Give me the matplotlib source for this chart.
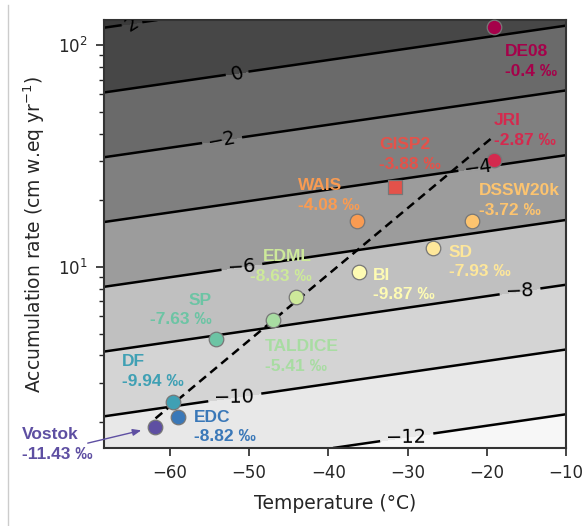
import numpy as np
import matplotlib
matplotlib.use("Agg")
import matplotlib.pyplot as plt
from matplotlib.lines import Line2D

# Sites, sorted by accumulation (high -> low)
sites = ['DE08', 'JRI', 'GISP2', 'WAIS', 'DSSW20k', 'SD', 'BI',
         'EDML', 'TALDICE', 'SP', 'DF', 'EDC', 'Vostok']
temperature = [-19.1, -19.1, -31.6, -36.4, -21.9, -26.8, -36.1,
               -44.1, -47.0, -54.2, -59.6, -59.0, -61.9]
accumulation = [120.5, 30.3, 22.9, 16.1, 16.1, 12.2, 9.5,
                7.3, 5.8, 4.74, 2.47, 2.11, 1.9]
delta = [-0.4, -2.87, -3.88, -4.08, -3.72, -7.93, -9.87,
         -8.63, -5.41, -7.63, -9.94, -8.82, -11.43]

# dashed fit line (end points)
fit_T = [-61.8, -19.1]
fit_A = [2.08, 38.9]

# background field: value = B*log10(A) + A_T*T + C
B_LOG = 6.85
A_T = -0.0354
C0 = -14.66
levels = [-14, -12, -10, -8, -6, -4, -2, 0, 2, 4]

# styles
site_colors = ['#a5014a', '#d42a4e', '#e4524a', '#f99b52', '#fdc46f', '#fee79a', '#fefbb3',
               '#cde99a', '#a8dca2', '#6cc4a4', '#3fa0b4', '#3a78b8', '#5e4fa2']
band_colors = ['#f7f7f7', '#e8e8e8', '#d4d4d4', '#c0c0c0', '#9c9c9c',
               '#808080', '#6a6a6a', '#474747', '#3b3b3b']
# label offsets in pixels (dx, dy) and alignment
label_layout = {
    'DE08': (11, -34, 'left'), 'JRI': (0, 30, 'left'), 'GISP2': (-16, 33, 'left'),
    'WAIS': (-59, 26, 'left'), 'DSSW20k': (7, 21, 'left'), 'SD': (16, -14, 'left'),
    'BI': (14, -13, 'left'), 'EDML': (16, 31, 'right'), 'TALDICE': (-8, -37, 'left'),
    'SP': (-4, 29, 'right'), 'DF': (-51, 30, 'left'), 'EDC': (16, -10, 'left'),
    'Vostok': (-133, -17, 'left'),
}

fig = plt.figure(figsize=(5.87, 5.26), dpi=100)
ax = fig.add_axes([0.1772, 0.1483, 0.787, 0.8137])

xlim = (-68.3, -10)
ylim = (1.53, 130)
tt = np.linspace(xlim[0], xlim[1], 200)
aa = np.logspace(np.log10(ylim[0]), np.log10(ylim[1]), 200)
TT, AA = np.meshgrid(tt, aa)
field = B_LOG * np.log10(AA) + A_T * TT + C0

ax.contourf(TT, AA, field, levels=levels, colors=band_colors)
cs = ax.contour(TT, AA, field, levels=levels[1:-1], colors='black',
                linewidths=1.8, linestyles='solid')
clabels = ax.clabel(cs, fontsize=14, inline=True, inline_spacing=6,
                    manual=[(-64.2, 123), (-51.5, 74.8), (-53.4, 37.3), (-21.0, 27.5),
                            (-50.9, 9.9), (-15.8, 7.71), (-51.8, 2.59), (-30.1, 1.79)])
for t in clabels:
    t.set_zorder(6)

ax.plot(fit_T, fit_A, color='black', ls=(0, (3.5, 2.2)), lw=1.8, zorder=3)

for i, name in enumerate(sites):
    marker = 's' if name == 'GISP2' else 'o'
    ax.scatter(temperature[i], accumulation[i], s=110 if marker == 'o' else 100,
               marker=marker, color=site_colors[i], edgecolor='#777777',
               linewidth=0.9, zorder=4, clip_on=False)
    dx, dy, ha = label_layout[name]
    ax.annotate(f"{name}\n{delta[i]} ‰", (temperature[i], accumulation[i]),
                xytext=(dx, dy), textcoords='offset pixels', ha=ha, va='center',
                multialignment=ha, color=site_colors[i], fontsize=12.5,
                fontweight='bold', family='Liberation Sans', linespacing=1.4,
                zorder=5, annotation_clip=False)

# arrow to Vostok
ax.annotate('', xy=(temperature[-1], accumulation[-1]), xytext=(-67, -16),
            textcoords='offset pixels',
            arrowprops=dict(arrowstyle='-|>,head_length=0.5,head_width=0.2',
                            color=site_colors[-1], lw=1.0, shrinkA=0, shrinkB=10),
            annotation_clip=False)

ax.set_yscale('log')
ax.set_xlim(xlim)
ax.set_ylim(ylim)
ax.set_xticks([-60, -50, -40, -30, -20, -10])
ax.set_xlabel('Temperature (°C)', fontsize=13.5, color='#262626', labelpad=9)
ax.set_ylabel('Accumulation rate (cm w.eq yr$^{-1}$)', fontsize=13.5,
              color='#262626', labelpad=8)
ax.tick_params(which='major', length=6, width=1.2, labelsize=12, colors='#262626', pad=5.5)
ax.tick_params(which='minor', length=3.5, width=1.0, colors='#262626')
for sp in ax.spines.values():
    sp.set_linewidth(1.5)
    sp.set_color('#333333')

fig.add_artist(Line2D([8 / 587, 8 / 587], [0, 1 - 5 / 526], transform=fig.transFigure,
                      color='#cccccc', lw=1))

fig.savefig('out.png', dpi=100)
